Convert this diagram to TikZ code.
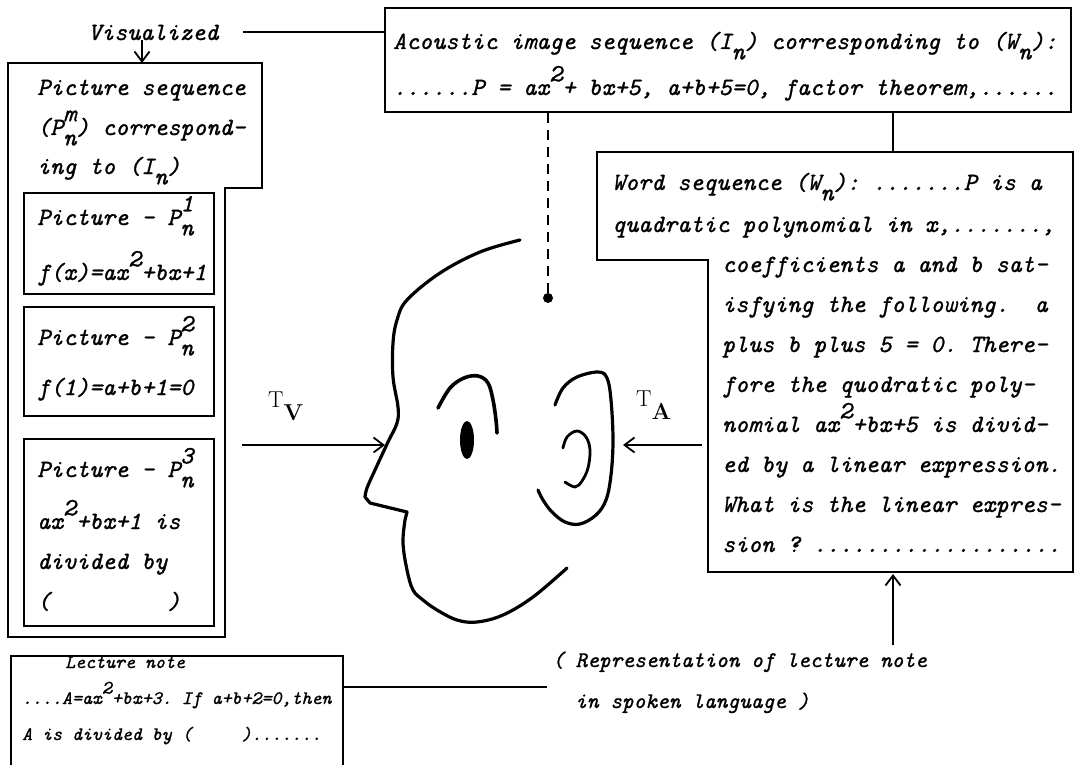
\documentclass[tikz,border=0pt]{standalone}
\usepackage{fontspec}
\usetikzlibrary{arrows.meta}

\newfontfamily\twfam{lmmono10-italic.otf}[FakeBold=1.0]
\newcommand{\twfont}{\fontsize{24.8}{40}\selectfont\twfam\frenchspacing}
\newcommand{\notefont}{\fontsize{19}{30}\selectfont\twfam\frenchspacing}
\newcommand{\repfont}{\fontsize{22.3}{36}\selectfont\twfam\frenchspacing}
\newcommand{\tsub}[1]{\raisebox{-0.42em}{#1}}
\newcommand{\tsup}[1]{\raisebox{0.55em}{#1}}
\newcommand{\tsubsup}[2]{\rlap{\tsup{#1}}\tsub{#2}}

\begin{document}
\begin{tikzpicture}[x=1pt, y=-1pt,
    box/.style={draw, line width=2pt, inner sep=0pt, anchor=north west},
    frame/.style={draw, line width=2pt, line join=miter},
    link/.style={line width=2pt},
    txt/.style={anchor=base west, inner sep=0pt, font=\twfont},
    arr/.style={line width=1.8pt, -{Straight Barb[length=10pt,width=15pt]}},
    head/.style={line width=3.2pt, line cap=round, line join=round},
    tlabel/.style={anchor=base west, inner sep=0pt, font=\fontsize{23}{26}\selectfont\rmfamily}]
    \useasboundingbox (0,0) rectangle (1076,765);
    \clip (0,0) rectangle (1076,765);

    % acoustic image sequence
    \node[box, minimum width=686, minimum height=104] (acoustic) at (384,7) {};
    \node[txt] (ac1) at (393,49) {Acoustic image sequence (I\tsub{n}) corresponding to (W\tsub{n}):};
    \node[txt] (ac2) at (393,95) {......P = ax\tsup{2}+ bx+5, a+b+5=0, factor theorem,......};

    % visualized
    \node[txt] (vis) at (88,40) {Visualized};
    \coordinate (vis-line) at (243,32);
    \draw[link] (vis-line) -- (vis-line -| acoustic.west);
    \coordinate (picseq) at (142,63);
    \draw[arr] (vis.south -| picseq) -- (picseq);

    % picture sequence
    \draw[frame] (8,63) -- (262,63) -- (262,188) -- (225,188) -- (225,637) -- (8,637) -- cycle;
    \node[txt] (ps1) at (37,95) {Picture sequence};
    \node[txt] (ps2) at (37,135) {(P\tsubsup{m}{n}) correspond-};
    \node[txt] (ps3) at (37,174) {ing to (I\tsub{n})};

    \node[box, minimum width=190, minimum height=101] (pic1) at (23,192) {};
    \node[txt] (p1a) at (37,225) {Picture \textendash{} P\tsubsup{1}{n}};
    \node[txt] (p1b) at (37,280) {f(x)=ax\tsup{2}+bx+1};

    \node[box, minimum width=190, minimum height=109] (pic2) at (23,306) {};
    \node[txt] (p2a) at (37,345) {Picture \textendash{} P\tsubsup{2}{n}};
    \node[txt] (p2b) at (37,395) {f(1)=a+b+1=0};

    \node[box, minimum width=190, minimum height=187] (pic3) at (23,438) {};
    \node[txt] (p3a) at (37,477) {Picture \textendash{} P\tsubsup{3}{n}};
    \node[txt] (p3b) at (37,529) {ax\tsup{2}+bx+1 is};
    \node[txt] (p3c) at (37,569) {divided by};
    \node[txt] (p3d) at (37,609) {(~~~~~~~~~)};

    % word sequence
    \draw[frame] (597,152) -- (1073,152) -- (1073,572) -- (708,572) -- (708,260) -- (597,260) -- cycle;
    \coordinate (ws-top) at (893,152);
    \draw[link] (acoustic.south -| ws-top) -- (ws-top);
    \node[txt] (ws1) at (612,190) {Word sequence (W\tsub{n}): .......P is a};
    \node[txt] (ws2) at (612,232) {quadratic polynomial in x,.......,};
    \node[txt] (ws3) at (722,272) {coefficients a and b sat-};
    \node[txt] (ws4) at (722,312) {isfying the following.~~a};
    \node[txt] (ws5) at (722,352) {plus b plus 5 = 0. There-};
    \node[txt] (ws6) at (722,392) {fore the quodratic poly-};
    \node[txt] (ws7) at (722,432) {nomial ax\tsup{2}+bx+5 is divid-};
    \node[txt] (ws8) at (722,472) {ed by a linear expression.};
    \node[txt] (ws9) at (722,512) {What is the linear expres-};
    \node[txt] (ws10) at (722,552) {sion ? ...................};

    % head
    \draw[head] plot[smooth, tension=0.6] coordinates {(520,240) (480,252) (440,273) (407,300)
        (397,320) (393,343) (393,377) (398,407) (397,423) (388,442) (375,470) (367,488) (365,497)}
        -- (370,503) -- (407,512) -- (405,520)
        -- plot[smooth, tension=0.6] coordinates {(405,520) (403,543) (407,570) (413,590)
        (423,600) (437,610) (457,620) (477,622) (503,615) (533,597) (567,568)};
    \draw[head, line width=3.6pt] plot[smooth, tension=0.6] coordinates {(438,408) (450,388)
        (464,378) (478,376) (488,383) (493,400) (496,420) (497,433)};
    \fill (467,440) ellipse [x radius=7, y radius=19];
    \draw[head] plot[smooth, tension=0.6] coordinates {(555,405) (563,388) (577,377) (598,372)
        (607,378) (611,400) (613,440) (611,475) (606,500) (596,515) (580,524) (565,522)
        (552,512) (543,500) (538,490)};
    \draw[head, line width=2.8pt] plot[smooth, tension=0.6] coordinates {(563,448) (567,437)
        (577,431) (586,437) (590,450) (588,468) (582,481) (575,487) (565,482)};
    \node[circle, fill, inner sep=0pt, minimum size=10] (brain) at (548,298) {};
    \draw[link, dash pattern=on 10pt off 7pt] (acoustic.south -| brain) -- (brain);

    % transfer arrows
    \coordinate (tv-start) at (242,445);
    \coordinate (face) at (385,445);
    \draw[arr] (tv-start) -- (face);
    \node[tlabel] (tv) at (268,407) {T\raisebox{-13pt}{\bfseries V}};
    \coordinate (ta-start) at (702,445);
    \coordinate (ear) at (623,445);
    \draw[arr] (ta-start) -- (ear);
    \node[tlabel] (ta) at (636,406) {T\raisebox{-13pt}{\bfseries A}};

    % lecture note
    \node[box, minimum width=332, minimum height=140] (note) at (10,655) {};
    \node[txt, font=\notefont] (n1) at (65,668) {Lecture note};
    \node[txt, font=\notefont] (n2) at (22,704) {....A=ax\tsup{2}+bx+3. If a+b+2=0,then};
    \node[txt, font=\notefont] (n3) at (22,740) {A is divided by (~~~~~).......};

    \node[txt, font=\repfont] (rep1) at (552,667) {( Representation of lecture note};
    \node[txt, font=\repfont] (rep2) at (575,708) {in spoken language )};
    \coordinate (rep-line) at (547,687);
    \draw[link] (note.east |- rep-line) -- (rep-line);
    \coordinate (rep-top) at (893,645);
    \coordinate (ws-bottom) at (893,574);
    \draw[arr] (rep-top) -- (ws-bottom);
\end{tikzpicture}
\end{document}
